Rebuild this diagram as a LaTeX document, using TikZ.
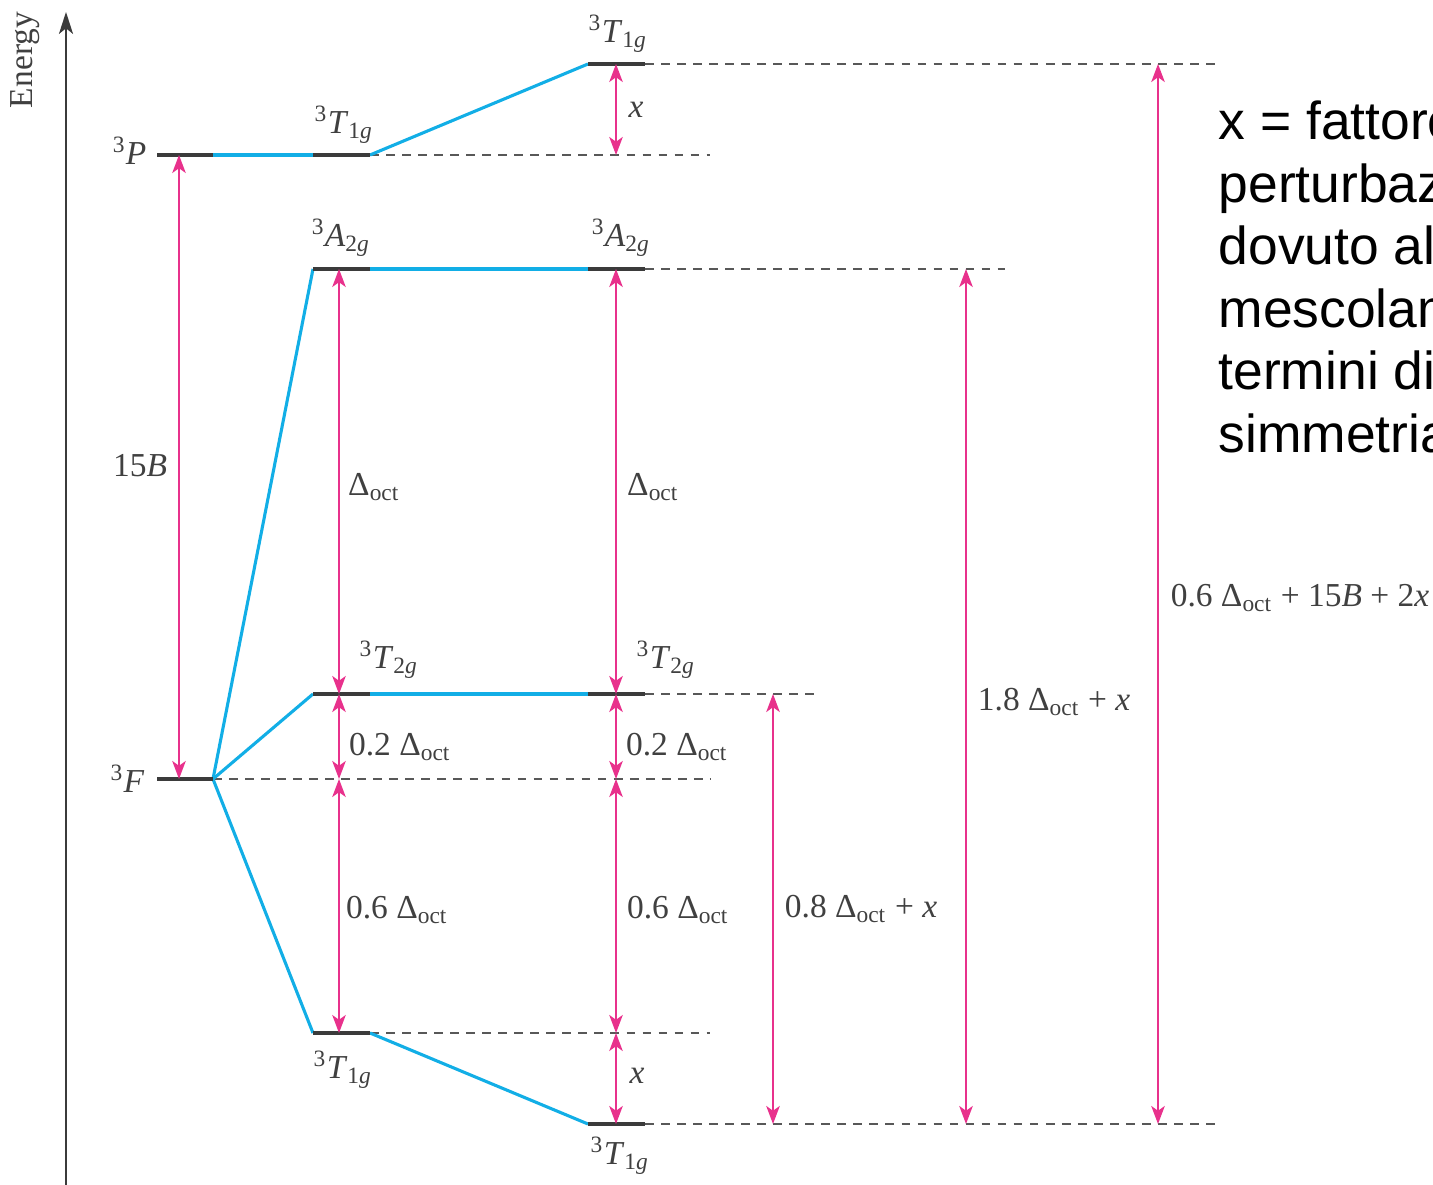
\documentclass[tikz,border=0pt]{standalone}
\usepackage{fontspec}
\setmainfont{Liberation Serif}
\newfontfamily\notefont{Liberation Sans}
\usetikzlibrary{arrows.meta}
\definecolor{levelgray}{HTML}{3B3B3B}
\definecolor{labelgray}{HTML}{404040}
\definecolor{corrblue}{HTML}{12AEE6}
\definecolor{gappink}{HTML}{E8318C}
\tikzset{
  level/.style={levelgray,line width=1.5pt},
  corr/.style={corrblue,line width=1.1pt},
  guide/.style={levelgray!85,line width=.5pt,dash pattern=on 3.1pt off 2.6pt},
  gap/.style={gappink,line width=.7pt,{Stealth[length=6.4pt,width=4.8pt,inset=1.7pt]}-{Stealth[length=6.4pt,width=4.8pt,inset=1.7pt]}},
  lab/.style={text=labelgray,font=\fontsize{11.9}{13}\selectfont,inner sep=0pt},
}
\newcommand{\term}[3]{\textsuperscript{#1}\textit{#2}\textsubscript{#3}}
\newcommand{\doct}{Δ\textsubscript{oct}}
\begin{document}
\begin{tikzpicture}[x=.0125cm,y=-.0125cm]
\useasboundingbox (0,0) rectangle (1433,1185);
% energy axis
\draw[levelgray,line width=.7pt,-{Stealth[length=7.8pt,width=5pt,inset=2pt]}] (66,1185)--(66,12);
\node[lab,rotate=90] (energy) at (25,60) {Energy};
% free ion terms and the two columns of levels
\coordinate (P-w) at (157,155);\coordinate (P-e) at (213,155);
\coordinate (F-w) at (157,779);\coordinate (F-e) at (213,779);
\coordinate (aT1-w) at (313,155);\coordinate (aT1-e) at (370,155);
\coordinate (aA-w) at (313,269);\coordinate (aA-e) at (370,269);
\coordinate (aT2-w) at (313,694);\coordinate (aT2-e) at (370,694);
\coordinate (aT1b-w) at (313,1033);\coordinate (aT1b-e) at (370,1033);
\coordinate (bT1-w) at (588,64);\coordinate (bT1-e) at (645,64);
\coordinate (bA-w) at (588,269);\coordinate (bA-e) at (645,269);
\coordinate (bT2-w) at (588,694);\coordinate (bT2-e) at (645,694);
\coordinate (bT1b-w) at (588,1124);\coordinate (bT1b-e) at (645,1124);
% dashed guides
\draw[guide] (aT1-e)--++(340,0);\draw[guide] (F-e)--++(497,0);\draw[guide] (aT1b-e)--++(340,0);
\draw[guide] (bT1-e)--++(570,0);\draw[guide] (bA-e)--++(360,0);\draw[guide] (bT2-e)--++(170,0);\draw[guide] (bT1b-e)--++(570,0);
% correlation lines
\draw[corr] (P-e)--(aT1-w);\draw[corr] (aT1-e)--(bT1-w);
\draw[corr] (F-e)--(aA-w);\draw[corr] (F-e)--(aT2-w);\draw[corr] (F-e)--(aT1b-w);
\draw[corr] (aA-e)--(bA-w);\draw[corr] (aT2-e)--(bT2-w);\draw[corr] (aT1b-e)--(bT1b-w);
% levels
\foreach \l in {P,F,aT1,aA,aT2,aT1b,bT1,bA,bT2,bT1b} \draw[level] (\l-w)--(\l-e);
% term labels
\node[lab,anchor=east] (P-lab) at (147,151) {\textsuperscript{3}\textit{P}};
\node[lab,anchor=east] (F-lab) at (145,779) {\textsuperscript{3}\textit{F}};
\node[lab] (aT1-lab) at (344,125) {\term{3}{T}{1\textit{g}}};\node[lab] (bT1-lab) at (618,34) {\term{3}{T}{1\textit{g}}};
\node[lab] (aA-lab) at (341,238) {\term{3}{A}{2\textit{g}}};\node[lab] (bA-lab) at (621,238) {\term{3}{A}{2\textit{g}}};
\node[lab] (aT2-lab) at (389,660) {\term{3}{T}{2\textit{g}}};\node[lab] (bT2-lab) at (666,660) {\term{3}{T}{2\textit{g}}};
\node[lab] (aT1b-lab) at (343,1070) {\term{3}{T}{1\textit{g}}};\node[lab] (bT1b-lab) at (620,1156) {\term{3}{T}{1\textit{g}}};
% energy gaps
\coordinate (s15) at (179,0);\coordinate (c1) at (339,0);\coordinate (c2) at (616,0);
\coordinate (s08) at (773,0);\coordinate (s18) at (966,0);\coordinate (s06) at (1158,0);
\draw[gap] (s15|-P-e)--(s15|-F-e);
\draw[gap] (c1|-aA-w)--(c1|-aT2-w);\draw[gap] (c1|-aT2-w)--(c1|-F-e);\draw[gap] (c1|-F-e)--(c1|-aT1b-w);
\draw[gap] (c2|-bT1-w)--(c2|-aT1-w);\draw[gap] (c2|-bA-w)--(c2|-bT2-w);\draw[gap] (c2|-bT2-w)--(c2|-F-e);
\draw[gap] (c2|-F-e)--(c2|-aT1b-w);\draw[gap] (c2|-aT1b-w)--(c2|-bT1b-w);
\draw[gap] (s08|-bT2-w)--(s08|-bT1b-w);\draw[gap] (s18|-bA-w)--(s18|-bT1b-w);\draw[gap] (s06|-bT1-w)--(s06|-bT1b-w);
\node[lab] (g15) at (140,466) {15\textit{B}};
\node[lab] (g1a) at (374,487) {\doct};\node[lab] (g2a) at (653,487) {\doct};
\node[lab] (g1b) at (400,747) {0.2 \doct};\node[lab] (g2b) at (677,747) {0.2 \doct};
\node[lab] (g1c) at (397,910) {0.6 \doct};\node[lab] (g2c) at (678,910) {0.6 \doct};
\node[lab] (g2x) at (636,110) {\textit{x}};\node[lab] (g2y) at (637,1076) {\textit{x}};
\node[lab] (g08) at (861,909) {0.8 \doct{} + \textit{x}};
\node[lab] (g18) at (1054,702) {1.8 \doct{} + \textit{x}};
\node[lab] (g06) at (1300,598) {0.6 \doct{} + 15\textit{B} + 2\textit{x}};
% note on x, cut off at the right edge
\begin{scope}
\clip (0,0) rectangle (1433,1185);
\foreach \t [count=\i] in {x = fattore,perturbazione,dovuto al,mescolamento,termini di,simmetria}
  \node[anchor=base west,inner sep=0pt,font=\notefont\fontsize{19}{22}\selectfont] (note\i) at (1218,77.5+62.5*\i) {\t};
\end{scope}
\end{tikzpicture}
\end{document}
